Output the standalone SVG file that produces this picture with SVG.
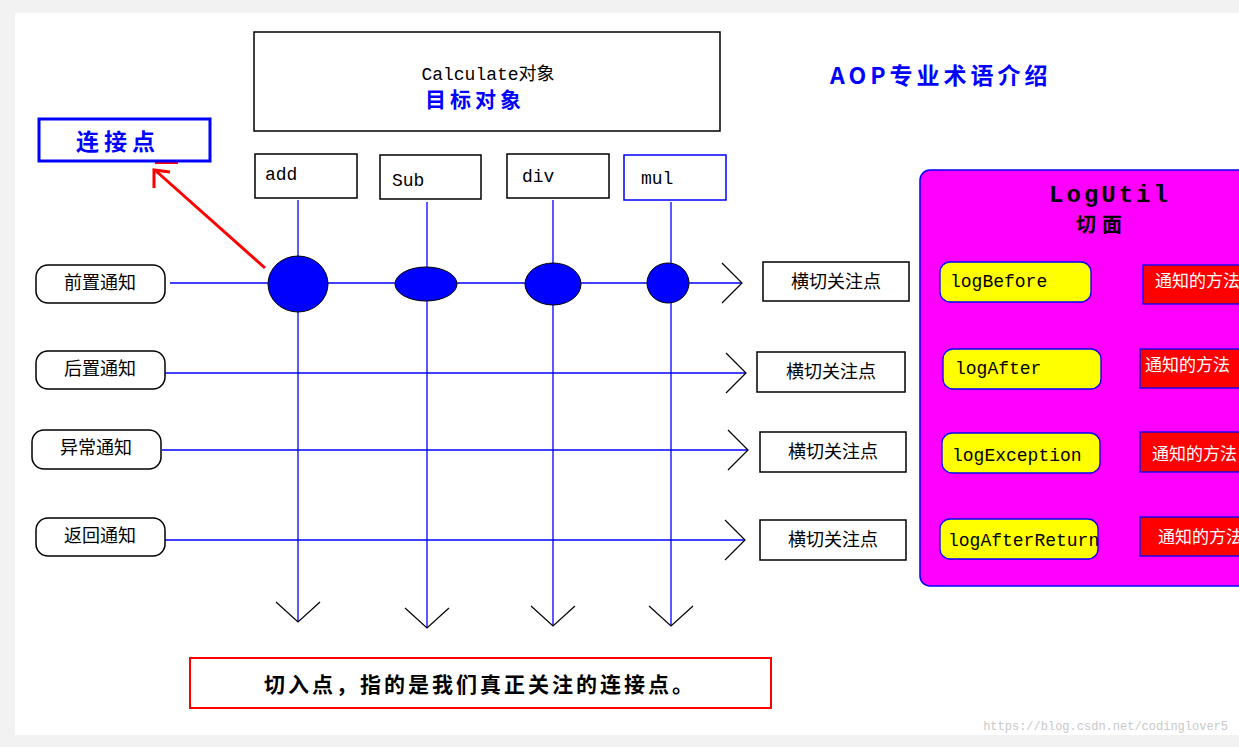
<svg xmlns="http://www.w3.org/2000/svg" width="1239" height="747" viewBox="0 0 1239 747">
<defs>
<style>
text{font-family:"Liberation Mono","Noto Sans CJK SC",monospace;}
.cn{font-family:"Noto Sans CJK SC",sans-serif;}
.bx{fill:#fff;stroke:#000;stroke-width:1.5}
.rb{fill:#fff;stroke:#000;stroke-width:1.5}
.ln{stroke:#0000ff;stroke-width:1.3;fill:none}
.ah{stroke:#000;stroke-width:1.2;fill:none}
.dot{fill:#0000ff;stroke:#000;stroke-width:1}
.yl{fill:#ffff00;stroke:#0000ff;stroke-width:1.3}
.rd{fill:#ff0000;stroke:#0000ff;stroke-width:1.3}
.t{font-size:18px;fill:#000}
.w{font-size:17px;fill:#fff}
</style>
</defs>
<rect width="1239" height="747" fill="#f2f2f2"/>
<rect x="15" y="13" width="1224" height="722" fill="#fff"/>
<g id="connectors">
<line class="ln" x1="298" y1="200" x2="298" y2="622"/><polyline class="ah" points="276,602 298,622 320,602"/>
<line class="ln" x1="427" y1="202" x2="427" y2="628"/><polyline class="ah" points="405,608 427,628 449,608"/>
<line class="ln" x1="553" y1="200" x2="553" y2="626"/><polyline class="ah" points="531,606 553,626 575,606"/>
<line class="ln" x1="671" y1="202" x2="671" y2="626"/><polyline class="ah" points="649,606 671,626 693,606"/>
<line class="ln" x1="170" y1="283" x2="742" y2="283"/><polyline class="ah" points="722,263 742,283 722,303"/>
<line class="ln" x1="165" y1="373" x2="746" y2="373"/><polyline class="ah" points="726,353 746,373 726,393"/>
<line class="ln" x1="162" y1="450" x2="748" y2="450"/><polyline class="ah" points="728,430 748,450 728,470"/>
<line class="ln" x1="165" y1="540" x2="745" y2="540"/><polyline class="ah" points="725,520 745,540 725,560"/>
<line x1="265" y1="268" x2="156" y2="171" stroke="#ff0000" stroke-width="3"/>
<polyline points="154,188 154,170 170,172" stroke="#ff0000" stroke-width="3" fill="none"/>
<rect x="155" y="160" width="23" height="4" fill="#ff0000"/>
</g>
<g id="target"><rect class="bx" x="254" y="32" width="466" height="99"/>
<text x="488" y="80" text-anchor="middle" class="t">Calculate对象</text>
<text x="475" y="107" text-anchor="middle" class="cn" font-size="21" font-weight="bold" fill="#0000ff" letter-spacing="4">目标对象</text></g>
<g id="title"><text x="830" y="84" class="cn" font-size="23" font-weight="bold" fill="#0000ff" letter-spacing="4">AOP专业术语介绍</text></g>
<g id="joinpoint"><rect x="39" y="119" width="171" height="42" fill="#fff" stroke="#0000ff" stroke-width="3"/>
<text x="118" y="150" text-anchor="middle" class="cn" font-size="23" font-weight="bold" fill="#0000ff" letter-spacing="5">连接点</text></g>
<g id="add"><rect class="bx" x="255" y="154" width="102" height="44"/><text x="265" y="180" class="t">add</text></g>
<g id="sub"><rect class="bx" x="380" y="155" width="101" height="44"/><text x="392" y="186" class="t">Sub</text></g>
<g id="div"><rect class="bx" x="507" y="154" width="102" height="44"/><text x="522" y="182" class="t">div</text></g>
<g id="mul"><rect x="624" y="155" width="102" height="45" fill="#fff" stroke="#0000ff" stroke-width="1.5"/><text x="641" y="184" class="t">mul</text></g>
<g id="dots">
<ellipse class="dot" cx="298" cy="284" rx="30" ry="28"/>
<ellipse class="dot" cx="426" cy="284" rx="31" ry="17"/>
<ellipse class="dot" cx="553" cy="284" rx="28" ry="21"/>
<ellipse class="dot" cx="668" cy="283" rx="21" ry="20"/>
</g>
<g id="before"><rect class="rb" x="36" y="265" width="129" height="38" rx="12"/><text x="100" y="289" text-anchor="middle" class="t">前置通知</text></g>
<g id="after"><rect class="rb" x="36" y="351" width="129" height="38" rx="12"/><text x="100" y="375" text-anchor="middle" class="t">后置通知</text></g>
<g id="exception"><rect class="rb" x="32" y="430" width="129" height="39" rx="12"/><text x="96" y="454" text-anchor="middle" class="t">异常通知</text></g>
<g id="return"><rect class="rb" x="36" y="518" width="129" height="38" rx="12"/><text x="100" y="542" text-anchor="middle" class="t">返回通知</text></g>
<g id="cc1"><rect class="bx" x="763" y="262" width="146" height="39"/><text x="836" y="288" text-anchor="middle" class="t">横切关注点</text></g>
<g id="cc2"><rect class="bx" x="757" y="352" width="148" height="40"/><text x="831" y="378" text-anchor="middle" class="t">横切关注点</text></g>
<g id="cc3"><rect class="bx" x="760" y="432" width="146" height="40"/><text x="833" y="458" text-anchor="middle" class="t">横切关注点</text></g>
<g id="cc4"><rect class="bx" x="760" y="520" width="146" height="40"/><text x="833" y="546" text-anchor="middle" class="t">横切关注点</text></g>
<g id="logutil"><rect x="920" y="170" width="340" height="416" rx="10" fill="#ff00ff" stroke="#0000ff" stroke-width="1.5"/>
<text x="1110" y="202" text-anchor="middle" font-size="24" font-weight="bold" letter-spacing="3">LogUtil</text>
<text x="1102" y="232" text-anchor="middle" class="cn" font-size="20" font-weight="bold" letter-spacing="6">切面</text>
<rect class="yl" x="940" y="262" width="151" height="40" rx="10"/><text x="950" y="287" class="t">logBefore</text>
<rect class="rd" x="1143" y="265" width="110" height="39"/><text x="1155" y="287" class="w">通知的方法</text>
<rect class="yl" x="943" y="349" width="158" height="40" rx="10"/><text x="955" y="374" class="t">logAfter</text>
<rect class="rd" x="1140" y="349" width="110" height="39"/><text x="1145" y="371" class="w">通知的方法</text>
<rect class="yl" x="942" y="433" width="158" height="40" rx="10"/><text x="952" y="461" class="t">logException</text>
<rect class="rd" x="1140" y="432" width="110" height="40"/><text x="1152" y="460" class="w">通知的方法</text>
<rect class="yl" x="940" y="519" width="158" height="40" rx="10"/><text x="948" y="546" class="t">logAfterReturn</text>
<rect class="rd" x="1140" y="517" width="110" height="39"/><text x="1158" y="543" class="w">通知的方法</text>
</g>
<g id="pointcut"><rect x="190" y="658" width="581" height="50" fill="#fff" stroke="#ff0000" stroke-width="2"/>
<text x="480" y="692" text-anchor="middle" class="cn" font-size="21" font-weight="bold" letter-spacing="3">切入点，指的是我们真正关注的连接点。</text></g>
<text x="1228" y="730" text-anchor="end" font-family="Liberation Sans,sans-serif" font-size="12" fill="#c8c8c8">https://blog.csdn.net/codinglover5</text>
</svg>
